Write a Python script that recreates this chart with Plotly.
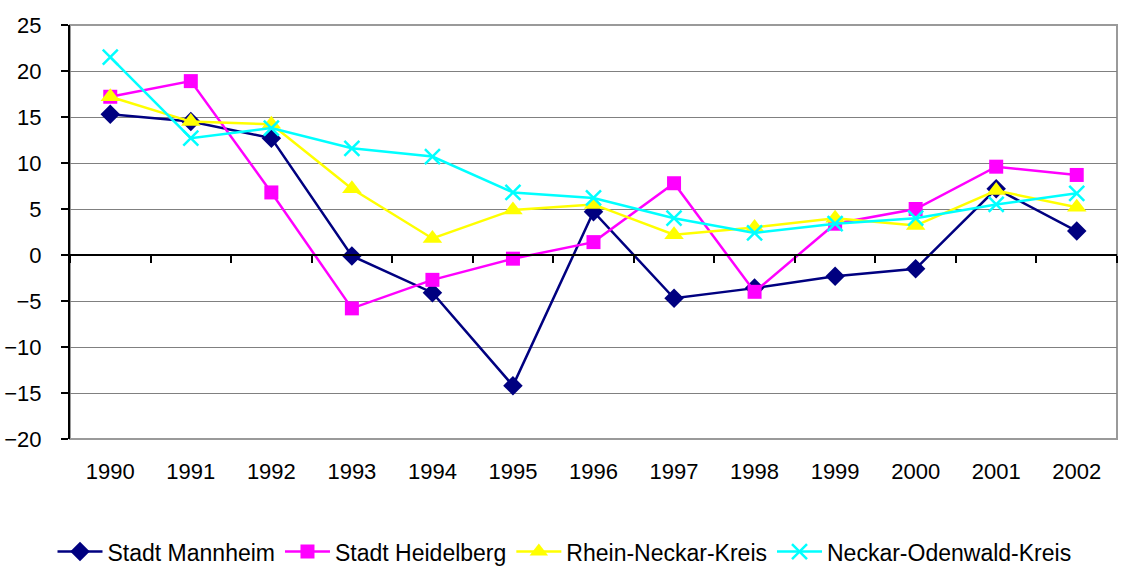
import plotly.graph_objects as go

years = ["1990", "1991", "1992", "1993", "1994", "1995", "1996", "1997", "1998", "1999", "2000", "2001", "2002"]
mannheim = [15.3, 14.5, 12.7, -0.1, -4.1, -14.2, 4.7, -4.7, -3.6, -2.3, -1.5, 7.2, 2.6]
heidelberg = [17.2, 18.9, 6.8, -5.8, -2.7, -0.4, 1.4, 7.8, -4.0, 3.4, 5.0, 9.6, 8.7]
rhein_neckar = [17.2, 14.5, 14.2, 7.2, 1.8, 4.9, 5.5, 2.2, 3.0, 4.0, 3.2, 7.0, 5.2]
neckar_odenwald = [21.5, 12.7, 13.8, 11.6, 10.7, 6.8, 6.2, 4.0, 2.4, 3.4, 4.0, 5.5, 6.7]
y_ticks = [25, 20, 15, 10, 5, 0, -5, -10, -15, -20]

x = list(range(len(years)))
FONT = "Liberation Sans, Arial, sans-serif"

fig = go.Figure()
series = [
    ("Stadt Mannheim", mannheim, "#000080", "diamond", 15, 0),
    ("Stadt Heidelberg", heidelberg, "#FF00FF", "square", 14, 0),
    ("Rhein-Neckar-Kreis", rhein_neckar, "#FFFF00", "triangle-up", 17, 0),
    ("Neckar-Odenwald-Kreis", neckar_odenwald, "#00FFFF", "x-thin-open", 15, 2.5),
]
for name, vals, col, sym, size, lw in series:
    fig.add_trace(go.Scatter(
        x=x, y=vals, name=name, mode="lines+markers",
        line=dict(color=col, width=2.5),
        marker=dict(symbol=sym, size=size, color=col, line=dict(color=col, width=lw)),
    ))

# invisible trace to hold the zero-line category axis
fig.add_trace(go.Scatter(x=[x[0], x[-1]], y=[None, None], xaxis="x2", showlegend=False,
                         hoverinfo="skip", mode="lines"))

boundaries = [i - 0.5 for i in range(len(years) + 1)]
ymin, ymax = min(y_ticks), max(y_ticks)

fig.update_layout(
    width=1129, height=566,
    margin=dict(l=70, r=12, t=25, b=127, autoexpand=False),
    plot_bgcolor="white", paper_bgcolor="white",
    font=dict(family=FONT, size=22, color="black"),
    showlegend=True,
    legend=dict(orientation="h", x=0.5, xref="container", xanchor="center",
                y=-0.272, yanchor="middle",
                font=dict(size=23), itemwidth=45, tracegroupgap=0, bgcolor="rgba(0,0,0,0)"),
    xaxis=dict(range=[-0.5, len(years) - 0.5], tickvals=x, ticktext=years,
               showgrid=False, zeroline=False, showline=False, ticks="", automargin=False,
               ticklabelstandoff=17, tickfont=dict(size=22)),
    xaxis2=dict(range=[-0.5, len(years) - 0.5], overlaying="x", anchor="free",
                position=(0 - ymin) / (ymax - ymin), side="bottom",
                tickvals=boundaries, ticks="outside", ticklen=7, tickwidth=2, tickcolor="black",
                showticklabels=False, showline=True, linecolor="black", linewidth=2,
                showgrid=False, zeroline=False),
    yaxis=dict(range=[ymin, ymax], tickvals=y_ticks, showgrid=True, gridcolor="#808080",
               gridwidth=1, zeroline=False, showline=True, linecolor="black", linewidth=2,
               ticks="outside", ticklen=7, tickwidth=2, tickcolor="black", automargin=False,
               ticklabelstandoff=15, tickfont=dict(size=22)),
    shapes=[dict(type="rect", xref="paper", yref="paper", x0=0, y0=0, x1=1, y1=1,
                 line=dict(color="#9a9a9a", width=2), layer="below")],
)

fig.write_html("out.html", config={"displayModeBar": False},
               post_script="document.body.style.margin='0';document.body.style.overflow='hidden';")
